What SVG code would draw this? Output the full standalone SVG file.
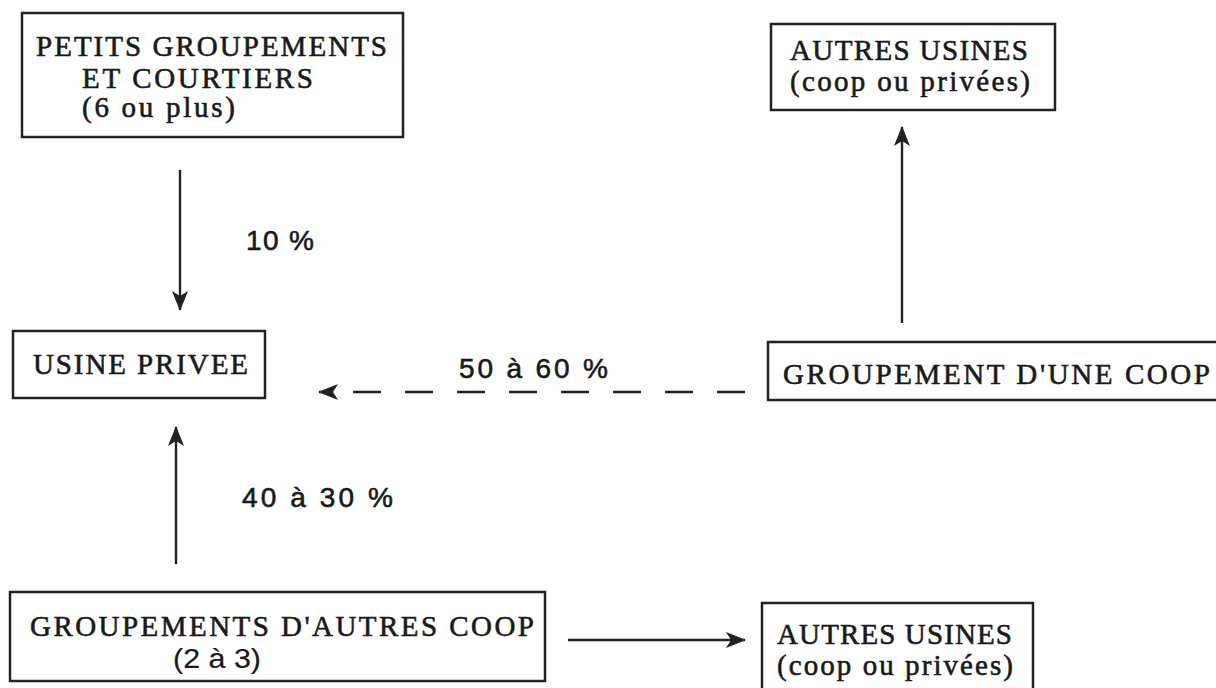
<svg xmlns="http://www.w3.org/2000/svg" width="1216" height="688" viewBox="0 0 1216 688">
<style>
.box{fill:#fff;stroke:#222;stroke-width:2.5}
.t{font-family:"Liberation Serif","DejaVu Serif",serif;font-size:29px;fill:#1a1a1a;stroke:#1a1a1a;stroke-width:0.6}
.s{font-family:"Liberation Sans","DejaVu Sans",sans-serif;font-size:28px;fill:#1a1a1a;stroke:#1a1a1a;stroke-width:0.6}
.ln{stroke:#222;stroke-width:2.4;fill:none}
</style>
<defs>
<marker id="ah" markerUnits="userSpaceOnUse" markerWidth="20" markerHeight="16" viewBox="0 0 20 16" refX="19" refY="8" orient="auto">
<path d="M0,0 L20,8 L0,16 L5,8 z" fill="#222"/>
</marker>
</defs>
<rect width="1216" height="688" fill="#fff"/>
<g id="connectors">
<line class="ln" x1="180" y1="170" x2="180" y2="310" marker-end="url(#ah)"/>
<line class="ln" x1="176" y1="564" x2="176" y2="427" marker-end="url(#ah)"/>
<line class="ln" x1="902" y1="323" x2="902" y2="127" marker-end="url(#ah)"/>
<line class="ln" x1="568" y1="640" x2="745" y2="640" marker-end="url(#ah)"/>
<line class="ln" x1="745" y1="392" x2="319" y2="392" stroke-dasharray="28,24" marker-end="url(#ah)"/>
<text class="s" x="246" y="250" textLength="68" lengthAdjust="spacing">10 %</text>
<text class="s" x="242" y="507" textLength="151" lengthAdjust="spacing">40 à 30 %</text>
<text class="s" x="459" y="378" textLength="149" lengthAdjust="spacing">50 à 60 %</text>
</g>
<g id="petits">
<rect class="box" x="22" y="13" width="381" height="124"/>
<text class="t" x="36" y="56" textLength="351" lengthAdjust="spacing">PETITS GROUPEMENTS</text>
<text class="t" x="82" y="88" textLength="231" lengthAdjust="spacing">ET COURTIERS</text>
<text class="t" x="82" y="117" textLength="153" lengthAdjust="spacing">(6 ou plus)</text>
</g>
<g id="autres-haut">
<rect class="box" x="771" y="24" width="284" height="86"/>
<text class="t" x="790" y="60" textLength="238" lengthAdjust="spacing">AUTRES USINES</text>
<text class="t" x="790" y="91" textLength="240" lengthAdjust="spacing">(coop ou privées)</text>
</g>
<g id="usine">
<rect class="box" x="13" y="331" width="252" height="67"/>
<text class="t" x="33" y="374" textLength="215" lengthAdjust="spacing">USINE PRIVEE</text>
</g>
<g id="une-coop">
<rect class="box" x="768" y="342" width="470" height="58"/>
<text class="t" x="783" y="384" textLength="427" lengthAdjust="spacing">GROUPEMENT D'UNE COOP</text>
</g>
<g id="autres-coop">
<rect class="box" x="10" y="592" width="535" height="89"/>
<text class="t" x="30" y="636" textLength="504" lengthAdjust="spacing">GROUPEMENTS D'AUTRES COOP</text>
<text class="s" x="173" y="668" textLength="88" lengthAdjust="spacingAndGlyphs" style="stroke-width:0.2">(2 à 3)</text>
</g>
<g id="autres-bas">
<rect class="box" x="762" y="603" width="271" height="100"/>
<text class="t" x="777" y="644" textLength="235" lengthAdjust="spacing">AUTRES USINES</text>
<text class="t" x="777" y="675" textLength="236" lengthAdjust="spacing">(coop ou privées)</text>
</g>
</svg>
